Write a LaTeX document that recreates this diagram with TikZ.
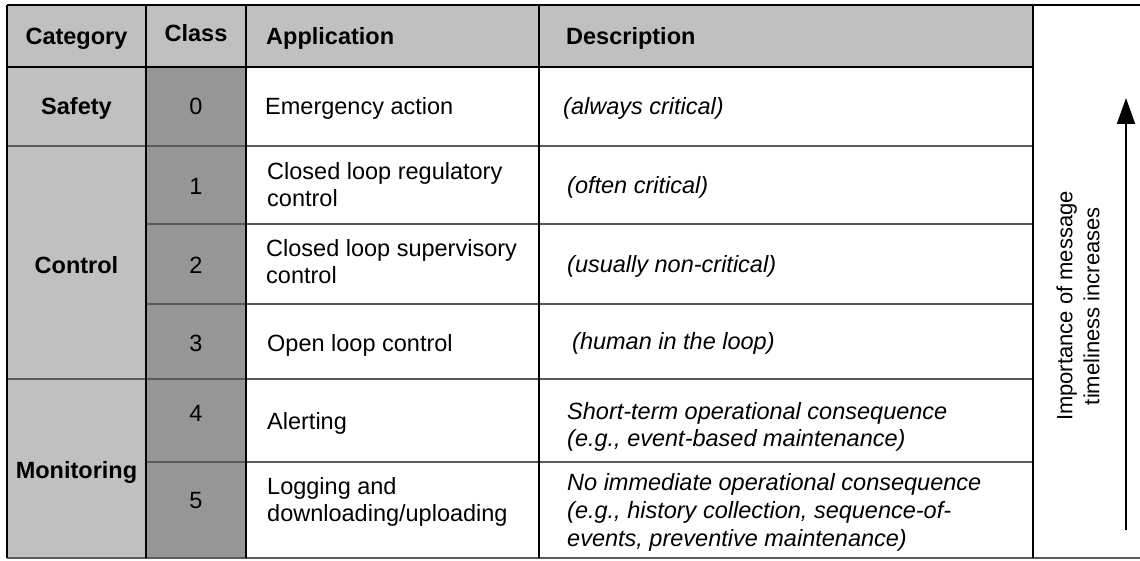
\documentclass[tikz,border=0pt]{standalone}
\usepackage{fontspec}
\setmainfont{Liberation Sans}
\usetikzlibrary{arrows.meta}
\definecolor{hdgrey}{HTML}{C0C0C0}
\definecolor{clsgrey}{HTML}{969696}
\definecolor{rulegrey}{HTML}{5A5A5A}
\newcommand\tabfont{\fontsize{23.5}{27}\selectfont}
\tikzset{
	hd/.style={font=\tabfont\bfseries},
	cell/.style={anchor=west, align=left},
	desc/.style={cell, font=\tabfont\itshape},
	hrule/.style={draw=rulegrey, line width=1.3pt},
	vrule/.style={draw=black, line width=1.8pt},
}
\begin{document}
\begin{tikzpicture}[x=1pt, y=-1pt, every node/.style={font=\tabfont, inner sep=0pt}]
	\useasboundingbox (0,0) rectangle (1140,561);
	% shaded cells
	\fill[hdgrey]  (7,5)    rectangle (1033,67);
	\fill[hdgrey]  (7,67)   rectangle (146,558);
	\fill[clsgrey] (146,67) rectangle (246,558);
	% horizontal rules
	\draw[vrule] (7,5)    -- (1140,5);
	\draw[vrule] (7,67)   -- (1033,67);
	\draw[hrule] (7,146)  -- (1033,146);
	\draw[hrule] (146,224) -- (1033,224);
	\draw[hrule] (146,304) -- (1033,304);
	\draw[hrule] (7,379)  -- (1033,379);
	\draw[hrule] (146,462) -- (1033,462);
	\draw[hrule] (7,558)  -- (1140,558);
	% vertical rules
	\draw[vrule] (7,5)    -- (7,558);
	\draw[vrule] (146,5)  -- (146,558);
	\draw[vrule] (246,5)  -- (246,558);
	\draw[vrule] (539,5)  -- (539,558);
	\draw[vrule] (1033,5) -- (1033,558);
	% header
	\node[hd, anchor=base]      (hcat)  at (76.5,45) {Category};
	\node[hd, anchor=base]      (hcls)  at (196,42)  {Class};
	\node[hd, anchor=base west] (happ)  at (266,45)  {Application};
	\node[hd, anchor=base west] (hdesc) at (566,45)  {Description};
	% categories
	\node[hd, anchor=base] (catsafe) at (76.5,115) {Safety};
	\node[hd, anchor=base] (catctrl) at (76.5,273) {Control};
	\node[hd, anchor=base] (catmon)  at (76.5,478) {Monitoring};
	% classes
	\node[anchor=base] (cls0) at (196,115) {0};
	\node[anchor=base] (cls1) at (196,195) {1};
	\node[anchor=base] (cls2) at (196,273) {2};
	\node[anchor=base] (cls3) at (196,351) {3};
	\node[anchor=base] (cls4) at (196,421) {4};
	\node[anchor=base] (cls5) at (196,508) {5};
	% applications
	\node[anchor=base west] (app0) at (265,115) {Emergency action};
	\node[cell]             (app1) at (267,185) {Closed loop regulatory\\control};
	\node[cell]             (app2) at (266,262) {Closed loop supervisory\\control};
	\node[anchor=base west] (app3) at (267,351) {Open loop control};
	\node[anchor=base west] (app4) at (267,429) {Alerting};
	\node[cell]             (app5) at (267,502) {Logging and\\downloading/uploading};
	% descriptions
	\node[desc] (desc0) at (563,108) {(always critical)};
	\node[desc] (desc1) at (567,187) {(often critical)};
	\node[desc] (desc2) at (567,266) {(usually non-critical)};
	\node[desc] (desc3) at (572,343) {(human in the loop)};
	\node[desc] (desc4) at (567,427) {Short-term operational consequence\\(e.g., event-based maintenance)};
	\node[desc, font=\fontsize{23.5}{28}\selectfont\itshape] (desc5) at (567,512) {No immediate operational consequence\\(e.g., history collection, sequence-of-\\events, preventive maintenance)};
	% importance arrow
	\node[rotate=90, align=center, font=\fontsize{22}{27}\selectfont] (imp) at (1078,306) {Importance of message\\timeliness increases};
	\coordinate (arrlow) at (1126,530);
	\coordinate (arrtip) at (1126,98);
	\draw[line width=1.8pt, -{Triangle[length=26pt, width=18pt]}] (arrlow) -- (arrtip);
\end{tikzpicture}
\end{document}
